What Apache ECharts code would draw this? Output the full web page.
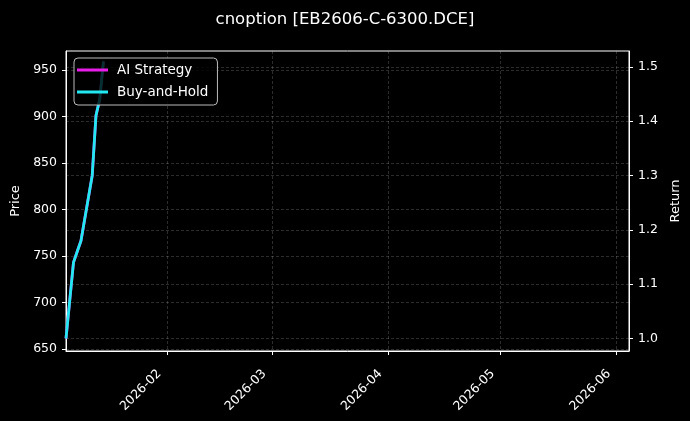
<!DOCTYPE html>
<html>
<head>
<meta charset="utf-8">
<script src="https://cdn.jsdelivr.net/npm/echarts@6/dist/echarts.min.js"></script>
<style>
html,body{margin:0;padding:0;background:#000;}
#chart{width:690px;height:421px;}
</style>
</head>
<body>
<div id="chart"></div>
<script>
const titleText = 'cnoption [EB2606-C-6300.DCE]';
const dates = ['2026-01-05','2026-01-06','2026-01-07','2026-01-08','2026-01-09','2026-01-12','2026-01-13','2026-01-14','2026-01-15'];
const aiReturn = [1.00, 1.07, 1.14, 1.16, 1.18, 1.30, 1.41, 1.44, 1.51];
const bhReturn = [1.00, 1.07, 1.14, 1.16, 1.18, 1.30, 1.41, 1.44, 1.51];
const priceTicks = [650, 700, 750, 800, 850, 900, 950];
const returnTicks = [1.0, 1.1, 1.2, 1.3, 1.4, 1.5];
const monthTicks = ['2026-02-01','2026-03-01','2026-04-01','2026-05-01','2026-06-01'];
const xStart = '2026-01-05';
const xEnd = '2026-06-04';

function toTs(s){ const p = s.split('-').map(Number); return new Date(p[0], p[1]-1, p[2]).getTime(); }

const FONT = 'DejaVu Sans';
const gridLine = { show: true, lineStyle: { color: 'rgba(255,255,255,0.22)', type: [3, 2], width: 0.8 } };
const axisLineW = { show: true, lineStyle: { color: '#fff', width: 1 } };

const chart = echarts.init(document.getElementById('chart'));
chart.setOption({
  backgroundColor: '#000',
  animation: false,
  title: {
    text: titleText, left: 'center', top: 6,
    textStyle: { color: '#fff', fontFamily: FONT, fontSize: 16.5, fontWeight: 'normal' }
  },
  grid: { left: 66, right: 61, top: 51, bottom: 70, show: true, borderColor: '#fff', borderWidth: 1, containLabel: false },
  legend: {
    orient: 'vertical', left: 74, top: 58,
    data: ['AI Strategy', 'Buy-and-Hold'],
    icon: 'rect', itemWidth: 31, itemHeight: 3, itemGap: 8,
    padding: [5, 9, 6, 3],
    backgroundColor: 'rgba(0,0,0,0.8)', borderColor: '#bbb', borderWidth: 1, borderRadius: 4,
    textStyle: { color: '#fff', fontFamily: FONT, fontSize: 13.5, padding: [0, 0, 0, 4] },
    z: 10
  },
  xAxis: {
    type: 'value',
    min: toTs(xStart), max: toTs(xEnd) + 7 * 3600e3,
    axisLine: axisLineW,
    axisTick: { show: true, inside: false, length: 4, lineStyle: { color: '#fff' }, customValues: monthTicks.map(toTs) },
    axisLabel: {
      color: '#fff', fontFamily: FONT, fontSize: 12.5, rotate: 45, margin: 13,
      padding: [0, 11, 0, 0],
      customValues: monthTicks.map(toTs),
      formatter: function (v) { const d = new Date(v); return d.getFullYear() + '-' + String(d.getMonth() + 1).padStart(2, '0'); }
    },
    splitLine: gridLine
  },
  yAxis: [
    {
      type: 'value', position: 'left', min: 647.8, max: 970.5,
      name: 'Price', nameLocation: 'middle', nameGap: 44, nameRotate: 90,
      nameTextStyle: { color: '#fff', fontFamily: FONT, fontSize: 13 },
      axisLine: axisLineW,
      axisTick: { show: true, length: 4, lineStyle: { color: '#fff' }, customValues: priceTicks },
      axisLabel: { color: '#fff', fontFamily: FONT, fontSize: 12.5, margin: 9, customValues: priceTicks },
      splitLine: gridLine
    },
    {
      type: 'value', position: 'right', min: 0.977, max: 1.529,
      name: 'Return', nameLocation: 'middle', nameGap: 36, nameRotate: 90,
      nameTextStyle: { color: '#fff', fontFamily: FONT, fontSize: 13 },
      axisLine: axisLineW,
      axisTick: { show: true, length: 4, lineStyle: { color: '#fff' }, customValues: returnTicks },
      axisLabel: { color: '#fff', fontFamily: FONT, fontSize: 12.5, margin: 9, customValues: returnTicks,
        formatter: function (v) { return Number(v).toFixed(1); } },
      splitLine: gridLine
    }
  ],
  series: [
    {
      name: 'AI Strategy', type: 'line', yAxisIndex: 1, showSymbol: false, symbol: 'none',
      lineStyle: { color: '#e81ee8', width: 2.8 }, itemStyle: { color: '#e81ee8' },
      data: dates.map((d, i) => [toTs(d), aiReturn[i]]), z: 2
    },
    {
      name: 'Buy-and-Hold', type: 'line', yAxisIndex: 1, showSymbol: false, symbol: 'none',
      lineStyle: { color: '#22e8f2', width: 2.8 }, itemStyle: { color: '#22e8f2' },
      data: dates.map((d, i) => [toTs(d), bhReturn[i]]), z: 3
    }
  ]
});
</script>
</body>
</html>
